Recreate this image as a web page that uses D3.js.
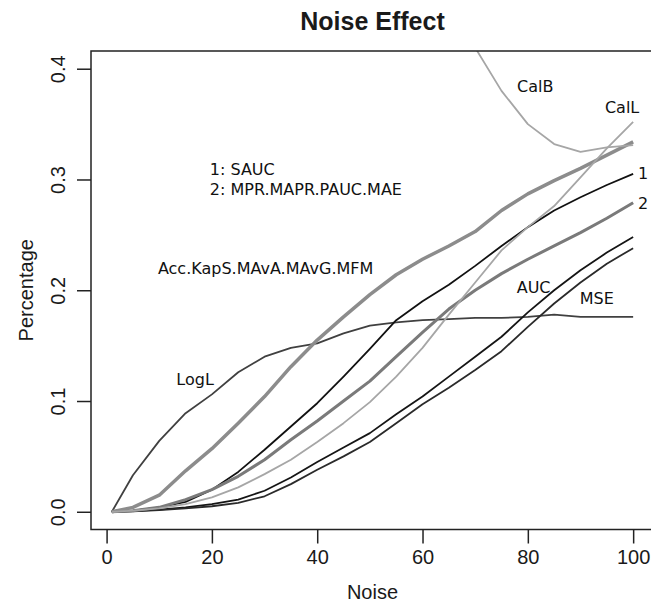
<!DOCTYPE html>
<html>
<head>
<meta charset="utf-8">
<script src="https://cdnjs.cloudflare.com/ajax/libs/d3/7.8.5/d3.min.js"></script>
<style>
  body { margin: 0; background: #fff; }
  .axis text, .lab { font-family: "Liberation Sans", Arial, sans-serif; fill: #1a1a1a; }
  .note { font-family: "DejaVu Sans", sans-serif; font-size: 16px; fill: #111; }
</style>
</head>
<body>
<svg id="chart" width="651" height="603"></svg>
<script>
// noise level (x) and the percentage read for every measure
var noise  = [1, 5, 10, 15, 20, 25, 30, 35, 40, 45, 50, 55, 60, 65, 70, 75, 80, 85, 90, 95, 100];
var logL   = [0, 0.033, 0.064, 0.089, 0.106, 0.126, 0.140, 0.148, 0.152, 0.161, 0.168, 0.171, 0.173, 0.174, 0.175, 0.175, 0.176, 0.178, 0.176, 0.176, 0.176];
var accGrp = [0, 0.004, 0.015, 0.037, 0.057, 0.080, 0.104, 0.131, 0.155, 0.176, 0.196, 0.214, 0.228, 0.240, 0.253, 0.272, 0.287, 0.299, 0.310, 0.322, 0.334];
var sauc   = [0, 0.001, 0.004, 0.009, 0.020, 0.036, 0.056, 0.077, 0.098, 0.122, 0.147, 0.173, 0.190, 0.205, 0.222, 0.240, 0.257, 0.272, 0.284, 0.295, 0.305];
var mprGrp = [0, 0.001, 0.004, 0.011, 0.020, 0.032, 0.047, 0.065, 0.082, 0.100, 0.118, 0.140, 0.162, 0.183, 0.200, 0.215, 0.228, 0.240, 0.252, 0.265, 0.279];
var calL   = [0, 0.001, 0.003, 0.007, 0.013, 0.022, 0.034, 0.047, 0.063, 0.080, 0.099, 0.122, 0.148, 0.178, 0.207, 0.236, 0.257, 0.276, 0.302, 0.328, 0.352];
var calB   = [null, null, null, null, null, null, null, null, null, null, null, null, null, 0.455, 0.419, 0.380, 0.350, 0.332, 0.325, 0.329, 0.331];
var auc    = [0, 0.0005, 0.002, 0.004, 0.007, 0.011, 0.019, 0.031, 0.045, 0.058, 0.071, 0.088, 0.104, 0.122, 0.140, 0.158, 0.180, 0.200, 0.218, 0.234, 0.248];
var mse    = [0, 0.0003, 0.0015, 0.003, 0.005, 0.008, 0.014, 0.025, 0.038, 0.050, 0.063, 0.080, 0.097, 0.112, 0.128, 0.145, 0.167, 0.188, 0.207, 0.224, 0.238];

var xTicks = [0, 20, 40, 60, 80, 100];
var yTicks = [0, 0.1, 0.2, 0.3, 0.4];

// drawing order and look of each curve
var series = [
  {name: "LogL", values: logL,   color: "#404040", w: 1.8},
  {name: "AUC",  values: auc,    color: "#151515", w: 1.8},
  {name: "MSE",  values: mse,    color: "#2a2a2a", w: 1.8},
  {name: "1",    values: sauc,   color: "#111111", w: 1.8},
  {name: "2",    values: mprGrp, color: "#7a7a7a", w: 3},
  {name: "Acc",  values: accGrp, color: "#8c8c8c", w: 3.5},
  {name: "CalL", values: calL,   color: "#a6a6a6", w: 1.8},
  {name: "CalB", values: calB,   color: "#a6a6a6", w: 1.8}
];

// text put inside the plot, in data coordinates
var notes = [
  {t: "CalB", x: 81.4, y: 0.384, a: "middle"},
  {t: "CalL", x: 97.9, y: 0.365, a: "middle"},
  {t: "1", x: 101.9, y: 0.306, a: "middle"},
  {t: "2", x: 101.9, y: 0.279, a: "middle"},
  {t: "AUC", x: 81.1, y: 0.203, a: "middle"},
  {t: "MSE", x: 93.1, y: 0.193, a: "middle"},
  {t: "LogL", x: 16.8, y: 0.120, a: "middle"},
  {t: "Acc.KapS.MAvA.MAvG.MFM", x: 30.2, y: 0.220, a: "middle"},
  {t: "1: SAUC", x: 19.6, y: 0.309, a: "start"},
  {t: "2: MPR.MAPR.PAUC.MAE", x: 19.6, y: 0.291, a: "start"}
];

var svg = d3.select("#chart"),
    pL = 91, pR = 654, pT = 51, pB = 529.5,
    x = d3.scaleLinear().domain([-2.96, 103.96]).range([pL, pR]),
    y = d3.scaleLinear().domain([-0.016, 0.416]).range([pB, pT]);

svg.append("clipPath").attr("id", "plotclip")
  .append("rect")
  .attr("x", pL).attr("y", pT)
  .attr("width", pR - pL).attr("height", pB - pT);

var line = d3.line()
  .defined(function(d) { return d[1] != null; })
  .x(function(d) { return x(d[0]); })
  .y(function(d) { return y(d[1]); });

svg.append("g").attr("clip-path", "url(#plotclip)")
  .selectAll("path")
  .data(series)
  .enter().append("path")
    .attr("fill", "none")
    .attr("stroke", function(d) { return d.color; })
    .attr("stroke-width", function(d) { return d.w; })
    .attr("stroke-linejoin", "round")
    .attr("d", function(d) { return line(noise.map(function(n, i) { return [n, d.values[i]]; })); });

svg.selectAll(".note")
  .data(notes)
  .enter().append("text")
    .attr("class", "note")
    .attr("x", function(d) { return x(d.x); })
    .attr("y", function(d) { return y(d.y); })
    .attr("dy", "0.36em")
    .attr("text-anchor", function(d) { return d.a; })
    .text(function(d) { return d.t; });

// box round the plot
svg.append("rect")
  .attr("x", pL).attr("y", pT)
  .attr("width", pR - pL).attr("height", pB - pT)
  .attr("fill", "none").attr("stroke", "#222").attr("stroke-width", 1.5);

var xAxis = svg.append("g")
  .attr("class", "axis")
  .attr("transform", "translate(0," + pB + ")")
  .call(d3.axisBottom(x).tickValues(xTicks).tickSize(14).tickPadding(6));
xAxis.select(".domain").remove();

var yAxis = svg.append("g")
  .attr("class", "axis")
  .attr("transform", "translate(" + pL + ",0)")
  .call(d3.axisLeft(y).tickValues(yTicks).tickSize(14).tickFormat(d3.format(".1f")));
yAxis.select(".domain").remove();
yAxis.selectAll("text")
  .attr("transform", "rotate(-90)")
  .attr("x", 0).attr("y", -26).attr("dy", 0)
  .attr("text-anchor", "middle");

svg.selectAll(".axis text").style("font-size", "20px");
svg.selectAll(".axis line").attr("stroke", "#222").attr("stroke-width", 1.5);

svg.append("text").attr("class", "lab")
  .attr("x", (pL + pR) / 2).attr("y", 30)
  .attr("text-anchor", "middle")
  .style("font-size", "25px").style("font-weight", "bold")
  .text("Noise Effect");

svg.append("text").attr("class", "lab")
  .attr("x", (pL + pR) / 2).attr("y", 599)
  .attr("text-anchor", "middle")
  .style("font-size", "20px")
  .text("Noise");

svg.append("text").attr("class", "lab")
  .attr("transform", "translate(33," + ((pT + pB) / 2) + ") rotate(-90)")
  .attr("text-anchor", "middle")
  .style("font-size", "20px")
  .text("Percentage");
</script>
</body>
</html>
